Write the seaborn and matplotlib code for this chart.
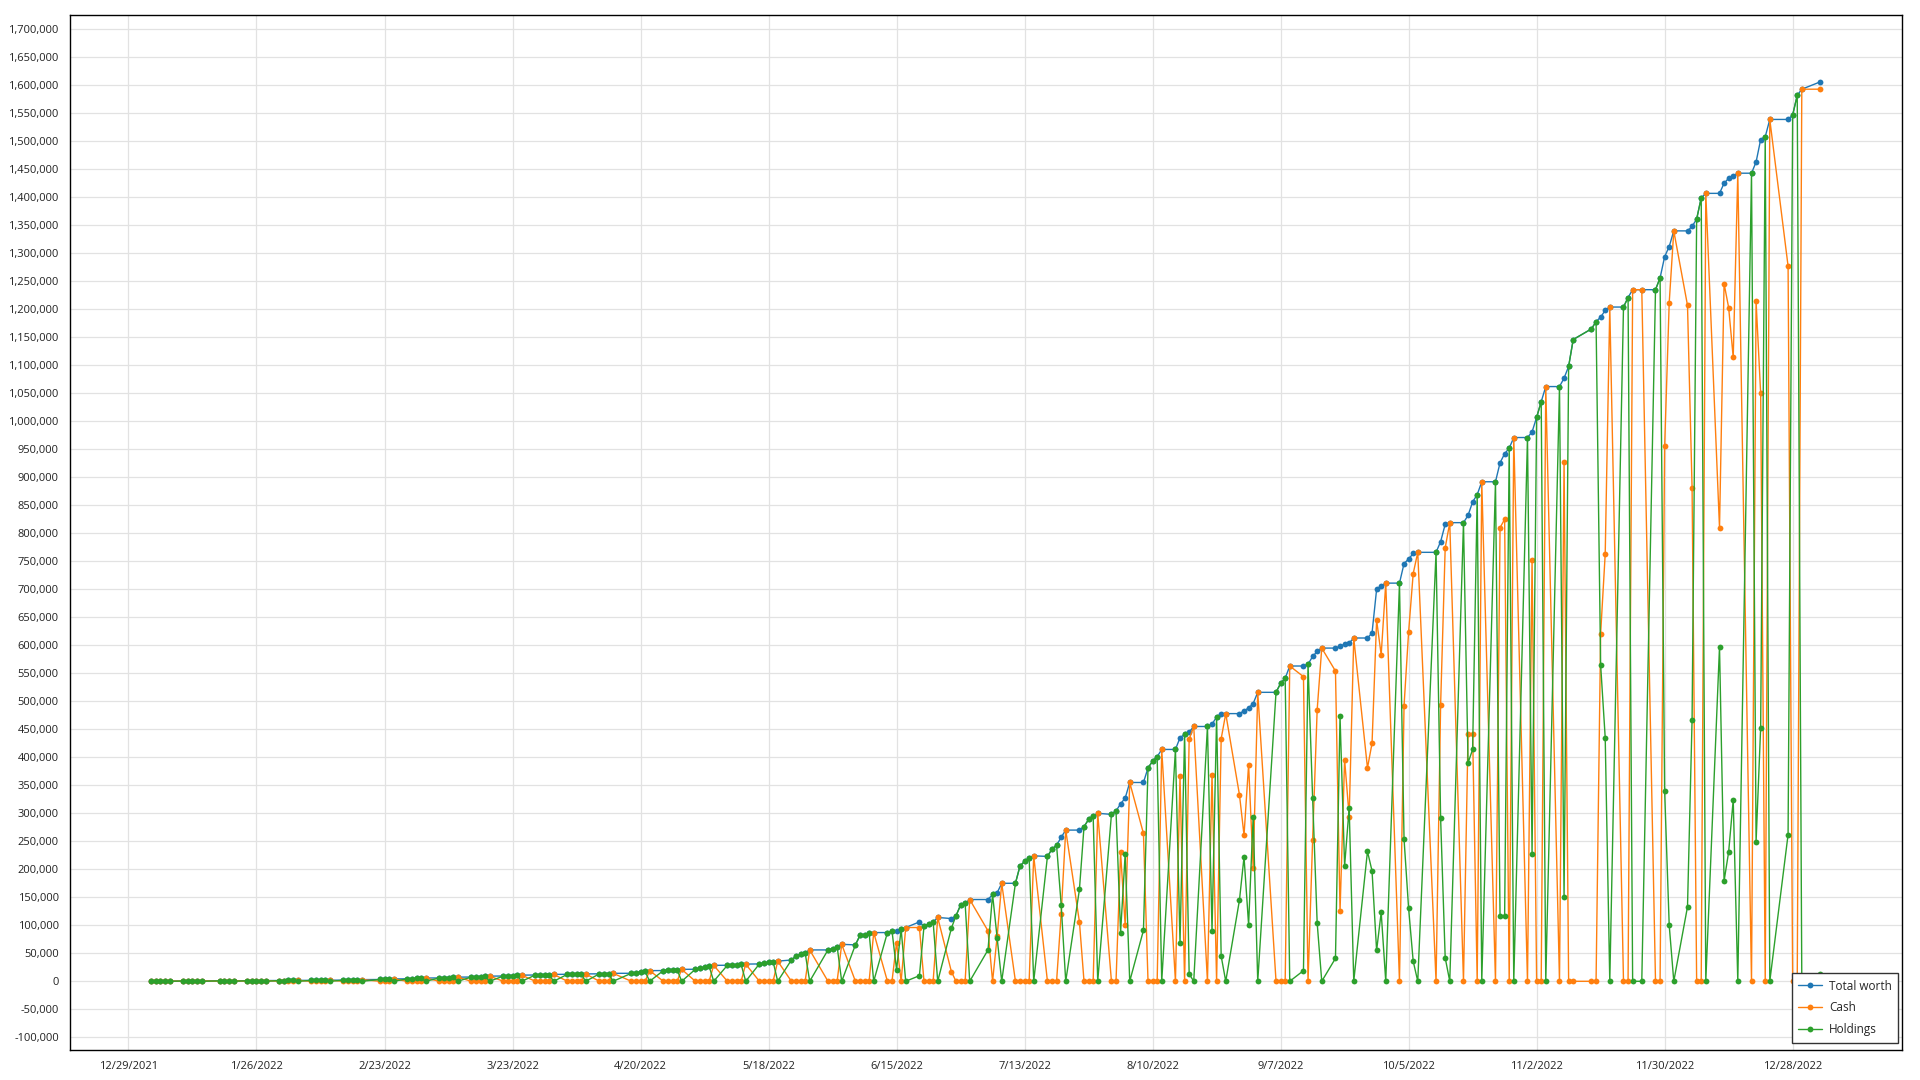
import matplotlib
matplotlib.use('Agg')
import matplotlib.pyplot as plt
import matplotlib.ticker as mticker
import seaborn as sns
import pandas as pd
import numpy as np

# days with no row in the data
skip_days = ['2022-01-17', '2022-02-21', '2022-04-15', '2022-05-30', '2022-07-04',
             '2022-09-05', '2022-10-10', '2022-11-11', '2022-11-24', '2022-12-26',
             '2023-01-02']

# values in thousands, one row per week
total_k = [
    0.2, 0.3, 0.3, 0.4, 0.5,
    0.5, 0.6, 0.6, 0.7, 0.8,
    0.8, 0.9, 0.9, 1.0,
    1.0, 1.1, 1.1, 1.2, 1.3,
    1.3, 1.4, 1.5, 1.5, 1.6,
    1.6, 1.7, 1.8, 1.9, 2.0,
    2.0, 2.2, 2.4, 2.6, 3.0,
    3.2, 3.5, 3.8, 4.2,
    4.4, 4.8, 5.0, 5.4, 5.8,
    6.0, 6.3, 6.6, 7.0, 7.4,
    7.6, 8.0, 8.4, 8.8, 9.2,
    9.4, 9.8, 10.2, 10.6, 11.0,
    11.2, 11.5, 11.8, 12.0, 12.3,
    12.4, 12.6, 12.8, 13.0, 13.2,
    13.3, 13.6, 13.9, 14.2,
    14.3, 15.5, 16.5, 17.5, 19.0,
    19.2, 19.8, 20.3, 20.8, 21.3,
    21.5, 23.0, 25.0, 27.0, 28.5,
    28.6, 29.2, 29.7, 30.2, 30.7,
    31.0, 32.5, 34.0, 35.0, 36.0,
    38, 45, 48, 51, 56,
    56, 58, 62, 66,
    65, 82, 83, 86, 87,
    87, 90, 90, 93, 96,
    106, 98, 102, 106, 114,
    112, 117, 136, 139, 146,
    146, 155, 158, 175,
    175, 206, 214, 220, 224,
    223, 236, 243, 257, 270,
    270, 276, 289, 295, 300,
    298, 304, 317, 327, 355,
    355, 381, 393, 401, 414,
    414, 435, 441, 445, 455,
    455, 459, 472, 478, 478,
    478, 483, 488, 496, 516,
    516, 532, 541, 563,
    563, 566, 580, 589, 595,
    595, 598, 602, 604, 613,
    613, 622, 700, 706, 711,
    711, 746, 754, 764, 766,
    766, 785, 816, 819,
    819, 832, 856, 869, 892,
    892, 926, 942, 952, 971,
    971, 981, 1007, 1035, 1062,
    1062, 1077, 1098, 1146,
    1165, 1178, 1186, 1198, 1204,
    1204, 1221, 1235, 1235,
    1235, 1256, 1294, 1312, 1340,
    1340, 1348, 1361, 1399, 1407,
    1407, 1425, 1434, 1438, 1443,
    1443, 1463, 1503, 1508, 1539,
    1539, 1547, 1582, 1593,
    1606,
]

cash_k = [
    0, 0, 0, 0, 0.5,
    0, 0, 0, 0, 0.8,
    0, 0, 0, 1.0,
    0, 0, 0, 0, 1.3,
    0, 0, 0, 0, 1.6,
    0, 0, 0, 0, 2.0,
    0, 0, 0, 0, 3.0,
    0, 0, 0, 4.2,
    0, 0, 0, 0, 5.8,
    0, 0, 0, 0, 7.4,
    0, 0, 0, 0, 9.2,
    0, 0, 0, 0, 11.0,
    0, 0, 0, 0, 12.3,
    0, 0, 0, 0, 13.2,
    0, 0, 0, 14.2,
    0, 0, 0, 0, 19.0,
    0, 0, 0, 0, 21.3,
    0, 0, 0, 0, 28.5,
    0, 0, 0, 0, 30.7,
    0, 0, 0, 0, 36.0,
    0, 0, 0, 0, 56,
    0, 0, 0, 66,
    0, 0, 0, 0, 87,
    0, 0, 69, 0, 96,
    96, 0, 0, 0, 114,
    17, 0, 0, 0, 146,
    90, 0, 80, 175,
    0, 0, 0, 0, 224,
    0, 0, 0, 120, 270,
    106, 0, 0, 0, 300,
    0, 0, 230, 100, 355,
    264, 0, 0, 0, 414,
    0, 367, 0, 432, 455,
    0, 369, 0, 433, 478,
    333, 261, 387, 202, 516,
    0, 0, 0, 563,
    544, 0, 252, 485, 595,
    554, 125, 396, 294, 613,
    381, 425, 645, 583, 711,
    0, 492, 624, 728, 766,
    0, 494, 774, 819,
    0, 442, 442, 0, 892,
    0, 810, 825, 0, 971,
    0, 753, 0, 0, 1062,
    0, 927, 0, 0,
    0, 0, 621, 763, 1204,
    0, 0, 1235, 1235,
    0, 0, 955, 1212, 1340,
    1207, 881, 0, 0, 1407,
    810, 1246, 1203, 1114, 1443,
    0, 1214, 1050, 0, 1539,
    1277, 0, 0, 1593,
    1593,
]

holdings_k = [
    0.2, 0.3, 0.3, 0.4, 0,
    0.5, 0.6, 0.6, 0.7, 0,
    0.8, 0.9, 0.9, 0,
    1.0, 1.1, 1.1, 1.2, 0,
    1.3, 1.4, 1.5, 1.5, 0,
    1.6, 1.7, 1.8, 1.9, 0,
    2.0, 2.2, 2.4, 2.6, 0,
    3.2, 3.5, 3.8, 0,
    4.4, 4.8, 5.0, 5.4, 0,
    6.0, 6.3, 6.6, 7.0, 0,
    7.6, 8.0, 8.4, 8.8, 0,
    9.4, 9.8, 10.2, 10.6, 0,
    11.2, 11.5, 11.8, 12.0, 0,
    12.4, 12.6, 12.8, 13.0, 0,
    13.3, 13.6, 13.9, 0,
    14.3, 15.5, 16.5, 17.5, 0,
    19.2, 19.8, 20.3, 20.8, 0,
    21.5, 23.0, 25.0, 27.0, 0,
    28.6, 29.2, 29.7, 30.2, 0,
    31.0, 32.5, 34.0, 35.0, 0,
    38, 45, 48, 51, 0,
    56, 58, 62, 0,
    65, 82, 83, 86, 0,
    87, 90, 21, 93, 0,
    10, 98, 102, 106, 0,
    95, 117, 136, 139, 0,
    56, 155, 78, 0,
    175, 206, 214, 220, 0,
    223, 236, 243, 137, 0,
    164, 276, 289, 295, 0,
    298, 304, 87, 227, 0,
    91, 381, 393, 401, 0,
    414, 68, 441, 13, 0,
    455, 90, 472, 45, 0,
    145, 222, 101, 294, 0,
    516, 532, 541, 0,
    19, 566, 328, 104, 0,
    41, 473, 206, 310, 0,
    232, 197, 55, 123, 0,
    711, 254, 130, 36, 0,
    766, 291, 42, 0,
    819, 390, 414, 869, 0,
    892, 116, 117, 952, 0,
    971, 228, 1007, 1035, 0,
    1062, 150, 1098, 1146,
    1165, 1178, 565, 435, 0,
    1204, 1221, 0, 0,
    1235, 1256, 339, 100, 0,
    133, 467, 1361, 1399, 0,
    597, 179, 231, 324, 0,
    1443, 249, 453, 1508, 0,
    262, 1547, 1582, 0,
    13,
]

series_names = ['Total worth', 'Cash', 'Holdings']
colors = ['#1f77b4', '#ff7f0e', '#2ca02c']
tick_dates = pd.date_range('2021-12-29', periods=14, freq='28D')

dates = pd.bdate_range('2022-01-03', '2023-01-03', freq='C', holidays=skip_days)

df = pd.DataFrame({
    'date': dates,
    'Total worth': np.array(total_k) * 1000,
    'Cash': np.array(cash_k) * 1000,
    'Holdings': np.array(holdings_k) * 1000,
})
long = df.melt(id_vars='date', var_name='series', value_name='value')

sns.set_style('white')
plt.rcParams['font.family'] = ['Open Sans', 'DejaVu Sans']

fig = plt.figure(figsize=(19.2, 10.8), dpi=100)
ax = fig.add_axes([70 / 1920, 30 / 1080, 1832 / 1920, 1035 / 1080])

sns.lineplot(data=long, x='date', y='value', hue='series', hue_order=series_names,
             palette=colors, marker='o', markersize=4.2, markeredgewidth=0,
             linewidth=1.0, ax=ax, legend=True)

ax.set_xlim(pd.Timestamp('2021-12-16 05:00'), pd.Timestamp('2023-01-20 22:00'))
ax.set_ylim(-122700, 1725500)

ax.set_xticks(tick_dates)
ax.set_xticklabels([f'{d.month}/{d.day}/{d.year}' for d in tick_dates], fontsize=8, color='#222222')
ax.yaxis.set_major_locator(mticker.MultipleLocator(50000))
ax.yaxis.set_minor_locator(mticker.MultipleLocator(10000))
ax.yaxis.set_major_formatter(mticker.FuncFormatter(lambda v, p: f'{v:,.0f}'))
for lab in ax.get_yticklabels():
    lab.set_fontsize(8)
    lab.set_color('#222222')

ax.tick_params(axis='both', which='major', direction='out', length=5, width=1, color='black', pad=3)
ax.tick_params(axis='y', which='minor', direction='out', length=3, width=0.8, color='black')
ax.set_xlabel('')
ax.set_ylabel('')

ax.grid(True, which='major', color='#e2e2e2', linewidth=0.9)
ax.set_axisbelow(True)
for sp in ax.spines.values():
    sp.set_color('black')
    sp.set_linewidth(1.0)

handles, labels = ax.get_legend_handles_labels()
leg = ax.legend(handles, labels, loc='lower right', bbox_to_anchor=(0.998, 0.007),
                borderaxespad=0, frameon=True, fancybox=False, edgecolor='#333333',
                fontsize=8.5, handlelength=2.0, labelspacing=0.75, borderpad=0.55,
                handletextpad=0.6, framealpha=1)
leg.get_frame().set_linewidth(1.0)

fig.savefig('out.png', dpi=100)
